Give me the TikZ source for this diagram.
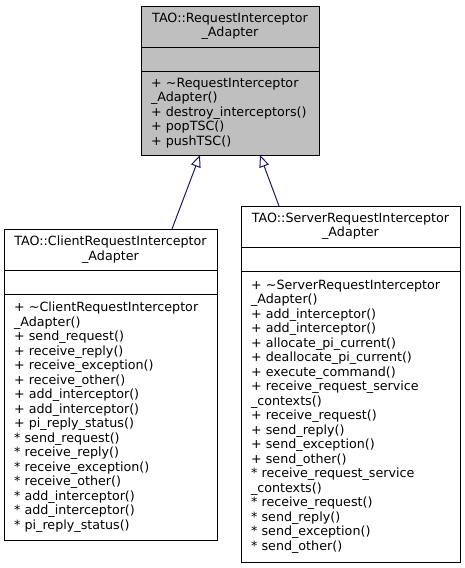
\documentclass[tikz,border=0pt]{standalone}
\usepackage{fontspec}
\setmainfont{DejaVu Sans}
\usepackage{xcolor}
\usetikzlibrary{arrows.meta, positioning, calc}
\definecolor{classgray}{HTML}{BFBFBF}
\definecolor{edgeblue}{HTML}{191970}
\tikzset{
    classfont/.style={font=\fontsize{12.7}{14.5}\selectfont},
    classtitle/.style={draw, line width=1pt, inner sep=0pt, outer sep=0pt, minimum height=41pt, align=center, classfont},
    classattr/.style={draw, line width=1pt, inner sep=0pt, outer sep=0pt, minimum height=24pt},
    classops/.style={draw, line width=1pt, inner xsep=10pt, inner ysep=0pt, outer sep=0pt, align=left, classfont},
    inherit/.style={draw=edgeblue, line width=1pt, -{Triangle[open, length=12pt, width=10pt]}}
}
\begin{document}
\begin{tikzpicture}[x=1pt, y=-1pt]
        \useasboundingbox (0,0) rectangle (465,568);
        \node[classtitle, fill=classgray, minimum width=178pt, anchor=north west] (adapterTitle) at (141,6) {TAO::RequestInterceptor\\\_Adapter};
        \node[classattr, fill=classgray, minimum width=178pt, below=0pt of adapterTitle] (adapterAttr) {};
        \node[classops, fill=classgray, text width=158pt, minimum height=84pt, below=0pt of adapterAttr] (adapterOps) {+ \textasciitilde RequestInterceptor\\\_Adapter()\\+ destroy\_interceptors()\\+ popTSC()\\+ pushTSC()};
        
        \node[classtitle, fill=white, minimum width=213pt, anchor=north west] (clientTitle) at (4,229) {TAO::ClientRequestInterceptor\\\_Adapter};
        \node[classattr, minimum width=213pt, below=0pt of clientTitle] (clientAttr) {};
        \node[classops, text width=193pt, minimum height=246pt, below=0pt of clientAttr] (clientOps) {+ \textasciitilde ClientRequestInterceptor\\\_Adapter()\\+ send\_request()\\+ receive\_reply()\\+ receive\_exception()\\+ receive\_other()\\+ add\_interceptor()\\+ add\_interceptor()\\+ pi\_reply\_status()\\{}* send\_request()\\{}* receive\_reply()\\{}* receive\_exception()\\{}* receive\_other()\\{}* add\_interceptor()\\{}* add\_interceptor()\\{}* pi\_reply\_status()};
        
        \node[classtitle, fill=white, minimum width=219pt, anchor=north west] (serverTitle) at (241,206) {TAO::ServerRequestInterceptor\\\_Adapter};
        \node[classattr, minimum width=219pt, below=0pt of serverTitle] (serverAttr) {};
        \node[classops, text width=199pt, minimum height=291pt, below=0pt of serverAttr] (serverOps) {+ \textasciitilde ServerRequestInterceptor\\\_Adapter()\\+ add\_interceptor()\\+ add\_interceptor()\\+ allocate\_pi\_current()\\+ deallocate\_pi\_current()\\+ execute\_command()\\+ receive\_request\_service\\\_contexts()\\+ receive\_request()\\+ send\_reply()\\+ send\_exception()\\+ send\_other()\\{}* receive\_request\_service\\\_contexts()\\{}* receive\_request()\\{}* send\_reply()\\{}* send\_exception()\\{}* send\_other()};
        
        \draw[inherit] ([xshift=-45pt]clientTitle.north east) -- ([xshift=-30pt]adapterOps.south);
        \draw[inherit] ([xshift=38pt]serverTitle.north west) -- ([xshift=30pt]adapterOps.south);
    \end{tikzpicture}
\end{document}
